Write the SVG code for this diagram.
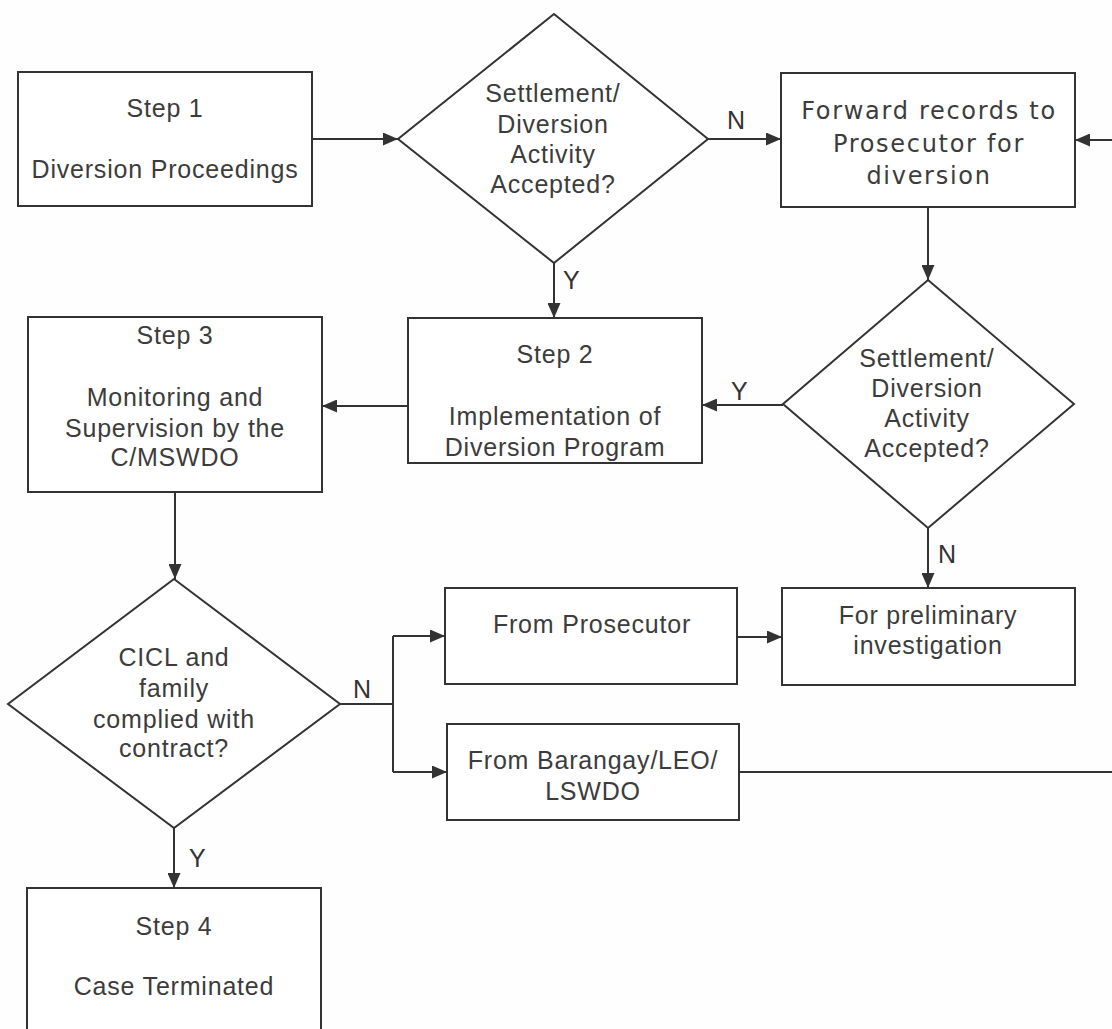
<svg xmlns="http://www.w3.org/2000/svg" width="1112" height="1029" viewBox="0 0 1112 1029">
<defs>
<style>
.box{fill:#ffffff;stroke:#333333;stroke-width:2}
.t{font-family:"Liberation Sans",Arial,sans-serif;font-size:25px;fill:#3c3c3c;text-anchor:middle;letter-spacing:0.8px}
.v{font-family:"DejaVu Sans",Verdana,sans-serif;font-size:24px;fill:#3c3c3c;text-anchor:middle;letter-spacing:1.7px}
.lbl{font-family:"Liberation Sans",Arial,sans-serif;font-size:25px;fill:#333333}
.c{fill:none;stroke:#333333;stroke-width:2}
</style>
<marker id="ah" markerWidth="15" markerHeight="13" refX="15" refY="6.5" orient="auto" markerUnits="userSpaceOnUse">
<path d="M0,0 L15,6.5 L0,13 Z" fill="#333333"/>
</marker>
</defs>
<rect width="1112" height="1029" fill="#fefefe"/>

<g id="connectors">
<path class="c" d="M312,139 H398" marker-end="url(#ah)"/>
<path class="c" d="M708,139 H781" marker-end="url(#ah)"/>
<path class="c" d="M1112,140 H1075" marker-end="url(#ah)"/>
<path class="c" d="M928,207 V280" marker-end="url(#ah)"/>
<path class="c" d="M554,263 V318" marker-end="url(#ah)"/>
<path class="c" d="M783,405 H702" marker-end="url(#ah)"/>
<path class="c" d="M408,406 H322" marker-end="url(#ah)"/>
<path class="c" d="M928,528 V588" marker-end="url(#ah)"/>
<path class="c" d="M175,492 V579" marker-end="url(#ah)"/>
<path class="c" d="M340,704 H393 M393,636 V772"/>
<path class="c" d="M393,636 H445" marker-end="url(#ah)"/>
<path class="c" d="M393,772 H447" marker-end="url(#ah)"/>
<path class="c" d="M737,637 H782" marker-end="url(#ah)"/>
<path class="c" d="M739,772 H1112"/>
<path class="c" d="M174,828 V888" marker-end="url(#ah)"/>
<text class="lbl" x="727" y="129">N</text>
<text class="lbl" x="563" y="289">Y</text>
<text class="lbl" x="731" y="400">Y</text>
<text class="lbl" x="938" y="563">N</text>
<text class="lbl" x="353" y="698">N</text>
<text class="lbl" x="189" y="867">Y</text>
</g>

<g id="step1">
<rect class="box" x="18" y="72" width="294" height="134"/>
<text class="t" x="165" y="117">Step 1</text>
<text class="t" x="165" y="178">Diversion Proceedings</text>
</g>

<g id="decision1">
<polygon class="box" points="554,14 708,139 554,263 398,139"/>
<text class="t" x="553" y="102">Settlement/</text>
<text class="t" x="553" y="133">Diversion</text>
<text class="t" x="553" y="163">Activity</text>
<text class="t" x="553" y="193">Accepted?</text>
</g>

<g id="forward">
<rect class="box" x="781" y="73" width="294" height="134"/>
<text class="v" x="929" y="119">Forward records to</text>
<text class="v" x="929" y="152">Prosecutor for</text>
<text class="v" x="929" y="184">diversion</text>
</g>

<g id="decision2">
<polygon class="box" points="928,280 1074,404 928,528 783,404"/>
<text class="t" x="927" y="367">Settlement/</text>
<text class="t" x="927" y="397">Diversion</text>
<text class="t" x="927" y="427">Activity</text>
<text class="t" x="927" y="457">Accepted?</text>
</g>

<g id="step2">
<rect class="box" x="408" y="318" width="294" height="145"/>
<text class="t" x="555" y="363">Step 2</text>
<text class="t" x="555" y="425">Implementation of</text>
<text class="t" x="555" y="456">Diversion Program</text>
</g>

<g id="step3">
<rect class="box" x="28" y="317" width="294" height="175"/>
<text class="t" x="175" y="344">Step 3</text>
<text class="t" x="175" y="406">Monitoring and</text>
<text class="t" x="175" y="437">Supervision by the</text>
<text class="t" x="175" y="466">C/MSWDO</text>
</g>

<g id="prelim">
<rect class="box" x="782" y="588" width="293" height="97"/>
<text class="t" x="928" y="624">For preliminary</text>
<text class="t" x="928" y="654">investigation</text>
</g>

<g id="decision3">
<polygon class="box" points="174,579 340,704 174,828 8,704"/>
<text class="t" x="174" y="666">CICL and</text>
<text class="t" x="174" y="697">family</text>
<text class="t" x="174" y="728">complied with</text>
<text class="t" x="174" y="757">contract?</text>
</g>

<g id="fromProsecutor">
<rect class="box" x="445" y="588" width="292" height="96"/>
<text class="t" x="592" y="633">From Prosecutor</text>
</g>

<g id="fromBarangay">
<rect class="box" x="447" y="724" width="292" height="96"/>
<text class="t" x="593" y="769">From Barangay/LEO/</text>
<text class="t" x="593" y="800">LSWDO</text>
</g>

<g id="step4">
<rect class="box" x="27" y="888" width="294" height="160"/>
<text class="t" x="174" y="935">Step 4</text>
<text class="t" x="174" y="995">Case Terminated</text>
</g>
</svg>
